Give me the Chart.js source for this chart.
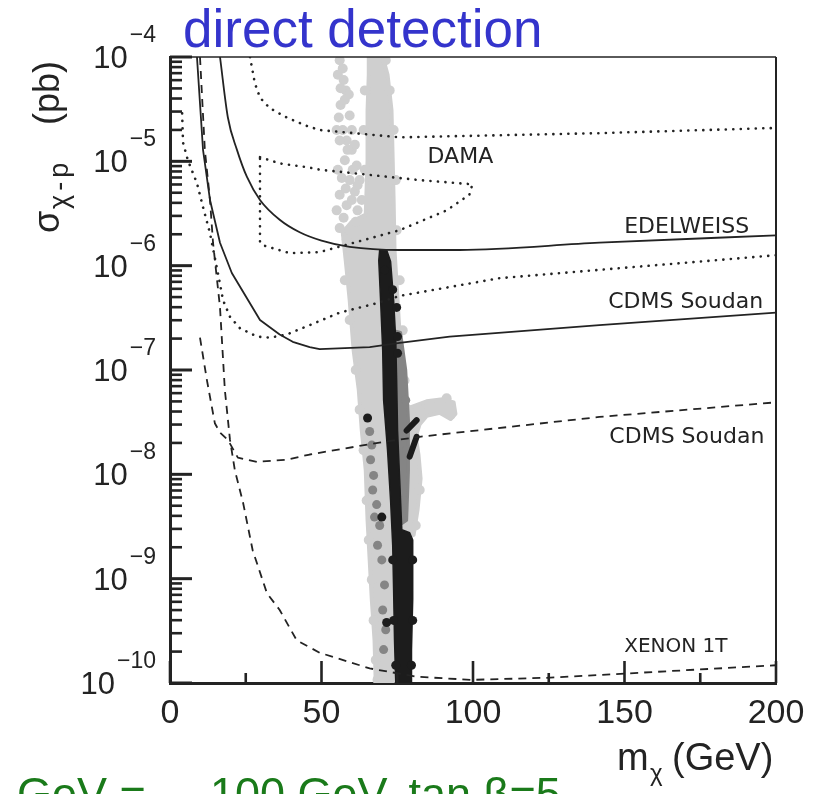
<!DOCTYPE html>
<html><head><meta charset="utf-8">
<script src="https://cdn.jsdelivr.net/npm/chart.js@4.4.1/dist/chart.umd.min.js"></script>
<style>html,body{margin:0;padding:0;background:#fff}canvas{display:block}</style>
</head><body>
<canvas id="c" width="816" height="794"></canvas>
<script>
// ===== Data: WIMP mass m (GeV) and log10 of sigma (pb) =====
const yDecades = [-10, -9, -8, -7, -6, -5, -4];
const xTickValues = [0, 50, 100, 150, 200];
const xMinorTickValues = [25, 75, 125, 175];

const edelweissM   = [16.5, 19.1, 22.1, 25.4, 29.7, 36.2, 42.8, 50.0, 59.3, 75.8, 95.6, 141.7, 200];
const edelweissLog = [-4.00, -4.58, -4.89, -5.15, -5.37, -5.56, -5.68, -5.76, -5.82, -5.85, -5.85, -5.78, -5.71];

const cdmsSolidM   = [8.9, 10.9, 13.2, 16.5, 20.4, 29.7, 36.2, 40.5, 46.1, 49.4, 65.9, 75.8, 92.3, 141.7, 200];
const cdmsSolidLog = [-4.00, -4.89, -5.37, -5.78, -6.07, -6.52, -6.66, -6.73, -6.78, -6.80, -6.78, -6.74, -6.68, -6.57, -6.45];

const cdmsDottedM   = [4.0, 4.3, 5.9, 8.9, 10.9, 13.2, 15.8, 17.5, 19.8, 23.1, 28.7, 32.9, 38.5, 46.1, 56.0, 68.2, 75.8, 108.7, 200];
const cdmsDottedLog = [-4.54, -4.82, -4.99, -5.21, -5.44, -5.69, -6.07, -6.33, -6.49, -6.60, -6.68, -6.69, -6.66, -6.57, -6.45, -6.36, -6.29, -6.12, -5.90];

const damaUpperM   = [26.4, 28.0, 29.7, 32.9, 38.5, 45.1, 49.4, 75.8, 141.7, 200];
const damaUpperLog = [-4.00, -4.25, -4.39, -4.49, -4.58, -4.66, -4.70, -4.77, -4.73, -4.68];

const damaRegionM   = [29.7, 36.2, 46.1, 49.4, 82.4, 99.8, 98.8, 91.3, 75.8, 49.4, 39.5, 31.3, 29.7, 29.7];
const damaRegionLog = [-4.96, -5.02, -5.06, -5.08, -5.18, -5.22, -5.32, -5.47, -5.66, -5.87, -5.88, -5.81, -5.78, -4.96];

const cdmsDashedM   = [9.9, 12.2, 14.8, 16.5, 19.1, 22.4, 28.7, 38.5, 46.1, 70.2, 82.4, 141.7, 200];
const cdmsDashedLog = [-6.69, -7.10, -7.51, -7.60, -7.67, -7.84, -7.88, -7.86, -7.81, -7.69, -7.64, -7.45, -7.31];

const xenonM   = [9.9, 11.5, 13.2, 14.2, 16.5, 18.1, 19.8, 21.4, 24.1, 27.3, 32.0, 36.2, 41.8, 49.4, 65.9, 81.4, 99.5, 124.2, 149.9, 200];
const xenonLog = [-4.00, -4.89, -5.37, -5.78, -6.40, -7.19, -7.67, -7.96, -8.27, -8.73, -9.14, -9.30, -9.59, -9.71, -9.86, -9.94, -9.97, -9.95, -9.91, -9.83];

// scan points: light grey region outline and loose points
const lightBandM   = [65.6, 70.2, 71.8, 73.1, 73.5, 73.8, 74.1, 75.1, 76.1, 76.8, 79.1, 84.7, 90.0, 93.6, 94.2, 92.6, 89.0, 84.7, 82.4, 81.1, 82.0, 82.7, 81.7, 80.4, 75.8, 74.1, 73.5, 67.9, 67.5, 66.6, 65.9, 65.2, 64.6, 63.3, 62.3, 60.6, 59.3, 58.0, 57.0, 60.0, 64.6, 65.2, 65.2, 65.6, 65.6];
const lightBandLog = [-4.00, -4.00, -4.17, -4.51, -4.99, -5.37, -5.85, -6.33, -6.81, -7.29, -7.36, -7.30, -7.28, -7.31, -7.42, -7.47, -7.41, -7.44, -7.52, -7.64, -7.81, -8.04, -8.34, -8.58, -8.63, -9.20, -10.00, -10.00, -9.59, -9.20, -8.82, -8.44, -7.96, -7.58, -7.19, -6.81, -6.33, -5.95, -5.68, -5.58, -5.51, -4.99, -4.51, -4.17, -4.00];
const lightDotsM   = [56.0, 57.0, 58.0, 56.3, 55.7, 59.3, 57.0, 58.3, 56.0, 60.0, 57.7, 61.6, 56.7, 59.3, 61.0, 56.0, 58.3, 61.9, 57.3, 63.3, 62.6,
                      55.4, 57.3, 59.0, 55.0, 60.0, 61.0, 58.6, 55.4, 60.3, 58.0, 61.9, 55.0, 60.0, 56.0, 61.3, 57.7, 56.3,
                      64.3, 63.9, 64.3, 73.8, 74.5, 74.8, 75.8, 76.8, 77.4, 71.2, 72.5,
                      58.3, 57.7, 59.3, 61.3, 62.6, 63.9, 64.9, 65.6, 66.6, 67.2, 67.9, 68.5, 82.4, 91.3, 92.6, 82.4, 81.1];
const lightDotsLog = [-4.03, -4.11, -4.32, -4.46, -4.58, -4.56, -4.70, -4.80, -4.80, -4.89, -4.99, -5.04, -5.16, -5.18, -5.29, -5.32, -5.42, -5.47, -5.54, -5.37, -5.18,
                      -4.17, -4.22, -4.36, -4.70, -4.70, -4.84, -4.89, -5.08, -5.08, -5.26, -5.23, -5.47, -5.37, -5.64, -5.58, -4.41, -4.30,
                      -4.32, -4.70, -5.08, -4.70, -5.18, -5.66, -6.14, -6.62, -7.10, -4.03, -4.32,
                      -5.75, -6.14, -6.52, -7.00, -7.38, -7.77, -8.25, -8.63, -9.01, -9.40, -9.78, -9.97, -7.38, -7.27, -7.43, -8.15, -8.49];

// medium grey points
const midBandM   = [73.5, 76.1, 77.8, 78.7, 78.7, 78.1, 75.1, 74.5, 73.8, 73.1, 73.5];
const midBandLog = [-6.62, -6.64, -7.00, -7.48, -7.96, -8.44, -8.50, -7.96, -7.48, -7.00, -6.62];
const midDotsM   = [65.9, 66.6, 66.2, 67.2, 66.9, 68.2, 67.5, 69.2, 68.5, 69.9, 70.8, 70.2, 71.2, 70.5, 77.8, 78.1, 77.1];
const midDotsLog = [-7.59, -7.72, -7.86, -8.01, -8.15, -8.29, -8.41, -8.49, -8.68, -8.82, -9.06, -9.30, -9.49, -9.68, -7.29, -7.77, -8.25];

// black points
const darkBandM   = [69.2, 71.5, 72.8, 73.8, 74.5, 74.8, 75.1, 75.8, 76.5, 79.1, 80.1, 80.1, 79.7, 79.7, 74.5, 74.1, 73.8, 73.5, 72.8, 71.8, 70.5, 70.2, 69.5, 68.9, 69.2];
const darkBandLog = [-5.85, -5.85, -5.96, -6.33, -6.71, -7.10, -7.58, -8.05, -8.53, -8.56, -8.63, -9.20, -9.68, -10.00, -10.00, -9.59, -9.11, -8.68, -8.25, -7.77, -7.29, -6.81, -6.33, -5.95, -5.85];
const darkDotsM   = [74.8, 75.1, 75.1, 65.2, 69.9, 71.5, 73.5, 80.1, 73.8, 80.1, 74.5, 79.7, 70.8, 73.5];
const darkDotsLog = [-6.40, -6.68, -6.84, -7.46, -8.41, -9.42, -8.82, -8.82, -9.40, -9.40, -9.83, -9.83, -6.04, -6.23];
const darkStrokeAM   = [78.1, 81.4];
const darkStrokeALog = [-7.58, -7.48];
const darkStrokeBM   = [79.1, 81.4];
const darkStrokeBLog = [-7.83, -7.64];

// curve labels anchored in data units
const curveLabels = ['DAMA', 'EDELWEISS', 'CDMS Soudan', 'CDMS Soudan', 'XENON 1T'];
const curveLabelM   = [85.0, 149.9, 144.6, 145.0, 149.9];
const curveLabelLog = [-5.02, -5.69, -6.41, -7.70, -9.70];

// ===== build =====
function pts(ms, ls) { return ms.map((m, i) => ({ x: m, y: Math.pow(10, ls[i]) })); }

const INK = '#232323';
const LIGHT = '#cfcfcf', MID = '#858585', DARK = '#1c1c1c';

function curve(ms, ls, style, order) {
  const d = { type: 'line', data: pts(ms, ls), borderColor: INK, borderWidth: 1.8, pointRadius: 0,
    fill: false, tension: 0, order: order, borderJoinStyle: 'round' };
  if (style === 'dot') { d.borderDash = [0.1, 7.4]; d.borderCapStyle = 'round'; d.borderWidth = 2.6; }
  if (style === 'dash') { d.borderDash = [8, 6]; }
  if (style === 'smooth') { d.cubicInterpolationMode = 'monotone'; }
  return d;
}
function region(ms, ls, color, order, bw) {
  return { type: 'line', data: pts(ms, ls), borderColor: color, backgroundColor: color, borderWidth: bw,
    borderJoinStyle: 'round', fill: 'shape', pointRadius: 0, tension: 0, order: order };
}
function dots(ms, ls, color, order, r) {
  return { type: 'scatter', data: pts(ms, ls), backgroundColor: color, borderColor: color, borderWidth: 0,
    pointRadius: r, showLine: false, order: order };
}
function stroke(ms, ls, color, order) {
  return { type: 'line', data: pts(ms, ls), borderColor: color, borderWidth: 6, borderCapStyle: 'round',
    pointRadius: 0, fill: false, order: order };
}

const datasets = [
  region(lightBandM, lightBandLog, LIGHT, 30, 4),
  dots(lightDotsM, lightDotsLog, LIGHT, 29, 5),
  region(midBandM, midBandLog, MID, 28, 3),
  dots(midDotsM, midDotsLog, MID, 27, 4.5),
  region(darkBandM, darkBandLog, DARK, 26, 1.5),
  dots(darkDotsM, darkDotsLog, DARK, 25, 4.5),
  stroke(darkStrokeAM, darkStrokeALog, DARK, 24),
  stroke(darkStrokeBM, darkStrokeBLog, DARK, 24),
  curve(edelweissM, edelweissLog, 'smooth', 5),
  curve(cdmsSolidM, cdmsSolidLog, 'solid', 5),
  curve(cdmsDottedM, cdmsDottedLog, 'dot', 6),
  curve(damaUpperM, damaUpperLog, 'dot', 6),
  curve(damaRegionM, damaRegionLog, 'dot', 6),
  curve(cdmsDashedM, cdmsDashedLog, 'dash', 7),
  curve(xenonM, xenonLog, 'dash', 7)
];

const FONT = '"Liberation Sans", Arial, sans-serif';
const LABEL_FONT = '"DejaVu Sans", sans-serif';

const deco = {
  id: 'deco',
  afterDatasetsDraw(chart) {
    const ctx = chart.ctx, xs = chart.scales.x, ys = chart.scales.y;
    const { left: L, right: R, top: T, bottom: B } = chart.chartArea;
    ctx.save();
    ctx.strokeStyle = INK; ctx.lineCap = 'butt';
    const seg = (x1, y1, x2, y2, w) => { ctx.lineWidth = w; ctx.beginPath(); ctx.moveTo(x1, y1); ctx.lineTo(x2, y2); ctx.stroke(); };
    seg(L, T, R, T, 1.5);
    seg(R, T, R, B, 2);
    yDecades.forEach(k => {
      const Y = ys.getPixelForValue(Math.pow(10, k));
      seg(L, Y, L + 22, Y, 3);
      if (k < -4) for (let j = 2; j <= 9; j++) {
        const Y2 = ys.getPixelForValue(j * Math.pow(10, k));
        seg(L, Y2, L + 12, Y2, 2.6);
      }
    });
    xTickValues.forEach(v => { const X = xs.getPixelForValue(v); seg(X, B, X, B - 22, 2.6); });
    xMinorTickValues.forEach(v => { const X = xs.getPixelForValue(v); seg(X, B, X, B - 10, 2.6); });
    ctx.fillStyle = INK; ctx.textBaseline = 'alphabetic'; ctx.textAlign = 'left';
    curveLabels.forEach((t, i) => {
      ctx.font = (t === 'XENON 1T' ? '20px ' : '22px ') + LABEL_FONT;
      ctx.fillText(t, xs.getPixelForValue(curveLabelM[i]), ys.getPixelForValue(Math.pow(10, curveLabelLog[i])));
    });
    ctx.restore();
  },
  afterDraw(chart) {
    const ctx = chart.ctx, xs = chart.scales.x, ys = chart.scales.y;
    const { left: L, bottom: B } = chart.chartArea;
    ctx.save();
    ctx.fillStyle = INK; ctx.textBaseline = 'alphabetic';
    ctx.font = '34px ' + FONT; ctx.textAlign = 'center';
    xTickValues.forEach(v => ctx.fillText(String(v), xs.getPixelForValue(v), B + 40));
    yDecades.forEach(k => {
      const Y = ys.getPixelForValue(Math.pow(10, k));
      const exp = '\u2212' + String(-k);
      ctx.font = '23px ' + FONT;
      const ew = ctx.measureText(exp).width;
      const expLeft = L - 14 - ew;
      ctx.textAlign = 'left';
      ctx.fillText(exp, expLeft, Y - 15);
      ctx.font = '31px ' + FONT; ctx.textAlign = 'right';
      ctx.fillText('10', expLeft - 2, Y + 11);
    });
    // y title
    ctx.save();
    ctx.translate(59, 233); ctx.rotate(-Math.PI / 2); ctx.textAlign = 'left';
    ctx.font = '36px ' + FONT; ctx.fillText('\u03C3', 0, 0);
    ctx.font = '27px ' + FONT; ctx.letterSpacing = '4px'; ctx.fillText('\u03C7-p', 24, 9);
    ctx.letterSpacing = '0px';
    ctx.font = '36px ' + FONT; ctx.fillText('(pb)', 108, 0);
    ctx.restore();
    // x title
    ctx.textAlign = 'left';
    ctx.font = '38px ' + FONT; ctx.fillText('m', 617, 770);
    ctx.font = '24px ' + FONT; ctx.fillText('\u03C7', 650, 781);
    ctx.font = '38px ' + FONT; ctx.fillText('(GeV)', 672, 770);
    // title
    ctx.fillStyle = '#3434cc'; ctx.font = '53px ' + FONT; ctx.fillText('direct detection', 183, 47);
    // cut-off caption at the bottom
    ctx.fillStyle = '#1a7a1a'; ctx.font = '45px ' + FONT;
    ctx.fillText('GeV =', 17, 809);
    ctx.fillText('100 GeV, tan \u03B2=5', 210, 809);
    ctx.restore();
  }
};

new Chart(document.getElementById('c'), {
  type: 'scatter',
  data: { datasets: datasets },
  options: {
    responsive: false, animation: false, devicePixelRatio: 1,
    layout: { padding: { left: 170, top: 57, right: 40, bottom: 111 } },
    plugins: { legend: { display: false }, tooltip: { enabled: false } },
    scales: {
      x: { type: 'linear', min: 0, max: 200, ticks: { display: false }, grid: { display: false, drawTicks: false },
           border: { display: true, width: 3, color: INK }, afterFit(s) { s.height = 0; } },
      y: { type: 'logarithmic', min: 1e-10, max: 1e-4, ticks: { display: false }, grid: { display: false, drawTicks: false },
           border: { display: true, width: 3, color: INK }, afterFit(s) { s.width = 0; } }
    }
  },
  plugins: [deco]
});
</script>
</body></html>
